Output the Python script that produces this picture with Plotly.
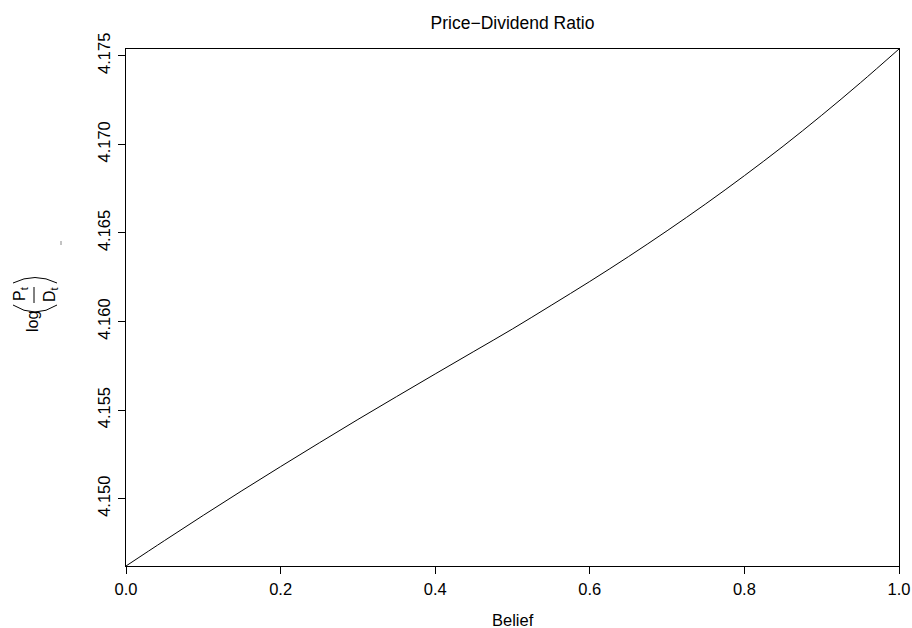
import plotly.graph_objects as go

belief = [0.00, 0.05, 0.10, 0.15, 0.20, 0.25, 0.30, 0.35, 0.40, 0.45, 0.50,
          0.55, 0.60, 0.65, 0.70, 0.75, 0.80, 0.85, 0.90, 0.95, 1.00]
log_pd = [4.14620, 4.14764, 4.14906, 4.15045, 4.15181, 4.15315, 4.15447,
          4.15576, 4.15704, 4.15831, 4.15958, 4.16091, 4.16226, 4.16366,
          4.16512, 4.16664, 4.16823, 4.16989, 4.17164, 4.17347, 4.17538]
x_ticks = [0.0, 0.2, 0.4, 0.6, 0.8, 1.0]
x_ticklabels = ["0.0", "0.2", "0.4", "0.6", "0.8", "1.0"]
y_ticks = [4.150, 4.155, 4.160, 4.165, 4.170, 4.175]
y_ticklabels = ["4.150", "4.155", "4.160", "4.165", "4.170", "4.175"]

W, H = 912, 628
L, R, T, B = 126, 13, 49, 62
PW, PH = W - L - R, H - T - B
FONT = "Liberation Sans, Arial, Helvetica, sans-serif"

def px(xp):
    return (xp - L) / PW

def py(yp):
    return (H - B - yp) / PH

fig = go.Figure()
fig.add_trace(go.Scatter(x=belief, y=log_pd, mode="lines",
                         line=dict(color="black", width=1, shape="spline"),
                         showlegend=False, hoverinfo="skip"))

axis_common = dict(showline=True, linecolor="black", linewidth=1, mirror=True,
                   ticks="outside", ticklen=7, tickcolor="black", tickwidth=1,
                   showgrid=False, zeroline=False, automargin=False,
                   tickfont=dict(family=FONT, size=16.5, color="black"))

fig.update_xaxes(range=[0, 1], tickvals=x_ticks, ticktext=x_ticklabels,
                 ticklabelstandoff=1, **axis_common)
fig.update_yaxes(range=[log_pd[0], log_pd[-1]], tickvals=y_ticks, ticktext=y_ticklabels,
                 tickangle=-90, ticklabelstandoff=1, **axis_common)

annots = []
annots.append(dict(text="Belief", x=0.5, y=py(620), xref="paper", yref="paper",
                   xanchor="center", yanchor="middle", showarrow=False,
                   font=dict(family=FONT, size=16.5, color="black")))

def rot(text, xp, yp, size):
    return dict(text=text, x=px(xp), y=py(yp), xref="paper", yref="paper",
                xanchor="center", yanchor="middle", showarrow=False, textangle=-90,
                font=dict(family=FONT, size=size, color="black"))

annots.append(rot("log", 32, 322, 16))
annots.append(rot("P<sub>t</sub>", 20, 294, 16))
annots.append(rot("D<sub>t</sub>", 50, 294, 16))

shapes = []
# fraction bar
shapes.append(dict(type="line", xref="paper", yref="paper",
                   x0=px(34), x1=px(34), y0=py(287), y1=py(303),
                   line=dict(color="black", width=1)))
# parentheses drawn as thin curves
def arc(x0, x1, yend, yctrl):
    return (f"M {px(x0)},{py(yend)} Q {px((x0 + x1) / 2)},{py(yctrl)} "
            f"{px(x1)},{py(yend)}")
shapes.append(dict(type="path", xref="paper", yref="paper",
                   path=arc(13, 57, 305, 319), line=dict(color="black", width=1)))
shapes.append(dict(type="path", xref="paper", yref="paper",
                   path=arc(13, 57, 283, 272), line=dict(color="black", width=1)))
# small stray mark seen in the reference
shapes.append(dict(type="line", xref="paper", yref="paper",
                   x0=px(61), x1=px(61), y0=py(241), y1=py(245),
                   line=dict(color="#888888", width=1)))

fig.update_layout(
    width=W, height=H,
    margin=dict(l=L, r=R, t=T, b=B, autoexpand=False),
    plot_bgcolor="white", paper_bgcolor="white",
    title=dict(text="Price\u2212Dividend Ratio", x=(L + PW / 2) / W, xanchor="center",
               y=1 - 23 / H, yanchor="middle",
               font=dict(family=FONT, size=17.5, color="black")),
    annotations=annots,
    shapes=shapes,
)

fig.write_html("out.html", config={"displayModeBar": False},
               post_script="document.body.style.margin='0';document.body.style.overflow='hidden';")
